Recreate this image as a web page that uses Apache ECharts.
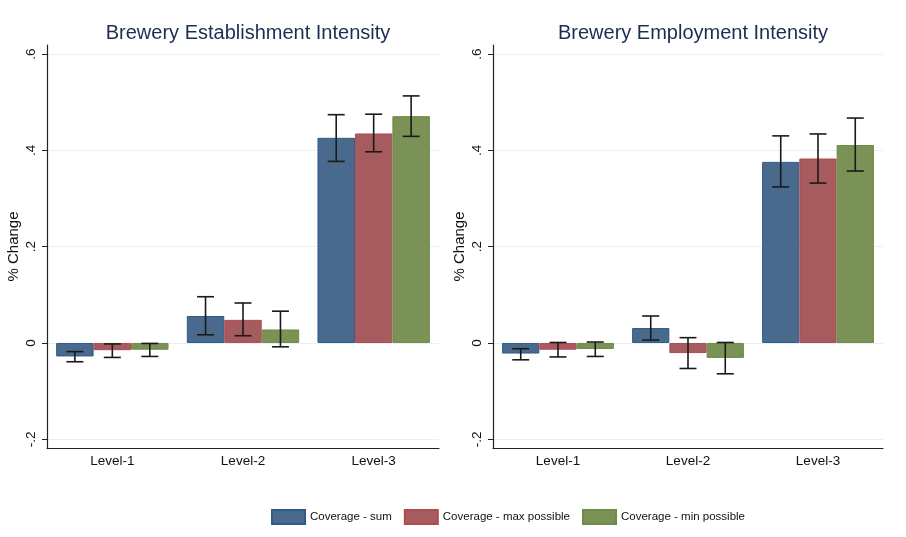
<!DOCTYPE html>
<html>
<head>
<meta charset="utf-8">
<script src="https://cdn.jsdelivr.net/npm/echarts@6/dist/echarts.min.js"></script>
<style>html,body{margin:0;padding:0;background:#fff;}#chart{width:906px;height:537px;}</style>
</head>
<body>
<div id="chart"></div>
<script>
// ---- data ----
const categories = ['Level-1', 'Level-2', 'Level-3'];
const seriesNames = ['Coverage - sum', 'Coverage - max possible', 'Coverage - min possible'];
const panelTitles = ['Brewery Establishment Intensity', 'Brewery Employment Intensity'];
const yTicks = [-0.2, 0, 0.2, 0.4, 0.6];

// Establishment intensity: point estimates and confidence intervals [low, high]
const estSum = [-0.028, 0.056, 0.426];
const estMax = [-0.015, 0.048, 0.435];
const estMin = [-0.014, 0.028, 0.471];
const estSumCI = [[-0.039, -0.018], [0.017, 0.096], [0.377, 0.474]];
const estMaxCI = [[-0.030, -0.002], [0.015, 0.083], [0.397, 0.475]];
const estMinCI = [[-0.028, -0.001], [-0.008, 0.066], [0.429, 0.513]];

// Employment intensity
const empSum = [-0.022, 0.031, 0.376];
const empMax = [-0.014, -0.021, 0.383];
const empMin = [-0.0125, -0.031, 0.411];
const empSumCI = [[-0.035, -0.012], [0.006, 0.056], [0.324, 0.430]];
const empMaxCI = [[-0.029, 0.001], [-0.053, 0.011], [0.332, 0.434]];
const empMinCI = [[-0.028, 0.002], [-0.064, 0.001], [0.357, 0.467]];

// ---- styles ----
const fills = ['#496a8c', '#a65c5f', '#7a9255'];
const borders = ['#2f5b88', '#b24a52', '#6c8b45'];
const CAT_GAP = 0.14;
const FONT = 'Liberation Sans, Arial, sans-serif';

const panels = [
  { vals: [estSum, estMax, estMin], cis: [estSumCI, estMaxCI, estMinCI] },
  { vals: [empSum, empMax, empMin], cis: [empSumCI, empMaxCI, empMinCI] }
];

const chart = echarts.init(document.getElementById('chart'), null, { renderer: 'canvas' });

const grids = [
  { left: 47, top: 45, width: 392, height: 403, containLabel: false },
  { left: 493, top: 45, width: 390, height: 403, containLabel: false }
];

function fmt(v) {
  if (Math.abs(v) < 1e-9) return '0';
  const s = (Math.round(v * 10) / 10).toString();
  return s.replace('0.', '.');
}

const xAxes = grids.map((g, i) => ({
  type: 'category',
  gridIndex: i,
  data: categories,
  axisLine: { onZero: false, lineStyle: { color: '#222', width: 1.2 } },
  axisTick: { show: false },
  axisLabel: { color: '#111', fontSize: 13.5, fontFamily: FONT, margin: 6 },
  splitLine: { show: false }
}));

const yAxes = grids.map((g, i) => ({
  type: 'value',
  gridIndex: i,
  min: -0.2181,
  max: 0.6187,
  name: '% Change',
  nameLocation: 'middle',
  nameRotate: 90,
  nameGap: 26,
  nameTextStyle: { color: '#111', fontSize: 15, fontFamily: FONT },
  axisLine: { show: true, lineStyle: { color: '#222', width: 1.2 } },
  axisTick: { show: true, length: 5, customValues: yTicks, lineStyle: { color: '#222', width: 1 } },
  axisLabel: {
    customValues: yTicks, rotate: 90, margin: 9, color: '#111', fontSize: 13.5, fontFamily: FONT,
    formatter: fmt
  },
  splitLine: { show: true, lineStyle: { color: '#e8f0f2', width: 1 } }
}));

const series = [];
panels.forEach((p, pi) => {
  p.vals.forEach((vals, si) => {
    series.push({
      type: 'bar',
      name: seriesNames[si],
      xAxisIndex: pi,
      yAxisIndex: pi,
      data: vals,
      barGap: '0%',
      barCategoryGap: (CAT_GAP * 100) + '%',
      itemStyle: { color: fills[si], borderColor: borders[si], borderWidth: 1 },
      emphasis: { disabled: true },
      z: 2
    });
  });
  const errData = [];
  p.cis.forEach((ci, si) => {
    ci.forEach((pair, ci2) => { errData.push([ci2, si, pair[0], pair[1]]); });
  });
  series.push({
    type: 'custom',
    xAxisIndex: pi,
    yAxisIndex: pi,
    data: errData,
    encode: { x: 0, y: [2, 3] },
    z: 5,
    silent: true,
    renderItem: function (params, api) {
      const c = api.value(0), s = api.value(1);
      const band = api.size([1, 0])[0];
      const bw = band * (1 - CAT_GAP) / 3;
      const lo = api.coord([c, api.value(2)]);
      const hi = api.coord([c, api.value(3)]);
      const x = lo[0] + (s - 1) * bw;
      const cap = 8.5;
      const st = { stroke: '#1a1a1a', lineWidth: 1.6 };
      return {
        type: 'group',
        children: [
          { type: 'line', shape: { x1: x, y1: lo[1], x2: x, y2: hi[1] }, style: st },
          { type: 'line', shape: { x1: x - cap, y1: lo[1], x2: x + cap, y2: lo[1] }, style: st },
          { type: 'line', shape: { x1: x - cap, y1: hi[1], x2: x + cap, y2: hi[1] }, style: st }
        ]
      };
    }
  });
});

chart.setOption({
  backgroundColor: '#ffffff',
  animation: false,
  title: [
    { text: panelTitles[0], left: 243, top: 18, textAlign: 'center',
      textStyle: { color: '#1c2d4f', fontSize: 20, fontWeight: 'normal', fontFamily: FONT } },
    { text: panelTitles[1], left: 688, top: 18, textAlign: 'center',
      textStyle: { color: '#1c2d4f', fontSize: 20, fontWeight: 'normal', fontFamily: FONT } }
  ],
  legend: {
    data: seriesNames,
    left: 266,
    top: 504,
    itemWidth: 33,
    itemHeight: 14,
    itemGap: 12,
    textStyle: { color: '#111', fontSize: 11.5, fontFamily: FONT },
    icon: 'rect',
    selectedMode: false
  },
  grid: grids,
  xAxis: xAxes,
  yAxis: yAxes,
  series: series
});
</script>
</body>
</html>
